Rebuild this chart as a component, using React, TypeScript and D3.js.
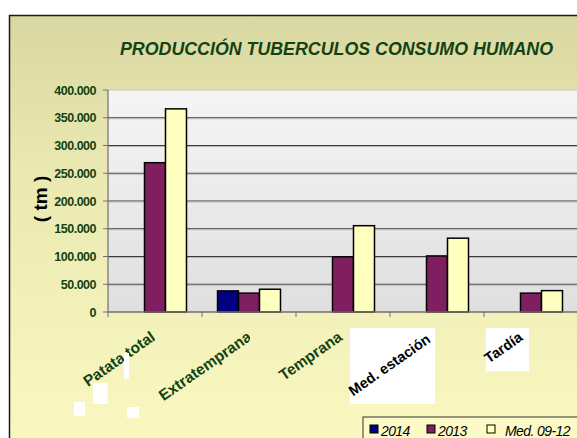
import React, { useMemo } from "react";
import * as d3 from "d3";

const categories = ["Patata total", "Extratemprana", "Temprana", "Med. estación", "Tardía"];
const seriesNames = ["2014", "2013", "Med. 09-12"];
const values2014: (number | null)[] = [null, 38000, null, null, null];
const values2013: (number | null)[] = [269000, 34000, 99500, 101000, 34000];
const valuesMed: (number | null)[] = [366000, 41000, 155500, 133000, 38500];
const yTicks = [0, 50000, 100000, 150000, 200000, 250000, 300000, 350000, 400000];
const boxedLabels = [false, false, false, true, true];
const seriesColors = ["#000080", "#7F1F5F", "#FFFFC0"];

const W = 577;
const H = 438;
const GREEN = "#134213";
const FONT = "'Liberation Sans', Arial, sans-serif";
const ANGLE = 35;

const locale = d3.formatLocale({ decimal: ",", thousands: ".", grouping: [3], currency: ["", ""] });
const fmt = locale.format(",");

export default function App() {
  const margin = { left: 108, top: 90, right: W + 1, bottom: 312 };
  const x = d3.scaleBand<string>().domain(categories).range([margin.left, margin.right]).paddingInner(0).paddingOuter(0);
  const y = d3.scaleLinear().domain([0, 400000]).range([margin.bottom, margin.top]);
  const bw = x.bandwidth();
  const groupW = bw * 0.67;
  const xs = d3.scaleBand<string>().domain(seriesNames).range([(bw - groupW) / 2, (bw + groupW) / 2]);
  const seriesValues = [values2014, values2013, valuesMed];

  const lengths = useMemo(() => {
    const c = document.createElement("canvas").getContext("2d");
    return categories.map((t) => {
      if (!c) return t.length * 14 * 0.55;
      c.font = `bold 14px ${FONT}`;
      return c.measureText(t).width;
    });
  }, []);

  const labelInfo = categories.map((cat, i) => {
    const cx = (x(cat) as number) + bw / 2;
    const L = lengths[i];
    const w = L * 0.81 + 10;
    const h = L * 0.632 + 17.4;
    const right = cx - 2;
    const left = right - w;
    const top = 328;
    const bottom = top + h;
    const boxed = boxedLabels[i];
    return {
      cat,
      cx,
      left,
      right,
      top,
      bottom,
      w,
      h,
      boxed,
      sx: left + (boxed ? 3 : 6),
      sy: bottom - (boxed ? 7.5 : 6),
      size: boxed ? 14.5 : 15.5,
    };
  });

  const artifacts = [
    [-31, 353, 5, 26],
    [-62, 383, 14.5, 21],
    [-81, 402, 11, 14],
    [-28, 407, 12, 11],
  ];

  return (
    <svg width={W} height={H} style={{ position: "absolute", left: 0, top: 0 }} fontFamily={FONT}>
      <defs>
        <linearGradient id="bg" x1="0" y1="0" x2="0" y2="1">
          <stop offset="0" stopColor="#DAD8A2" />
          <stop offset="0.35" stopColor="#EBE9B2" />
          <stop offset="1" stopColor="#FCFAC2" />
        </linearGradient>
        <linearGradient id="plotbg" x1="0" y1="0" x2="0" y2="1">
          <stop offset="0" stopColor="#F5F5F5" />
          <stop offset="1" stopColor="#DFDFDF" />
        </linearGradient>
        {labelInfo.map((d, i) => (
          <clipPath id={`lc${i}`} key={i}>
            <rect x={d.left - 40} y={d.top - 40} width={d.cx + (i === 2 ? 2 : i === 1 ? 1 : 0) - d.left + 40} height={d.h + 80} />
          </clipPath>
        ))}
      </defs>
      <rect x={0} y={0} width={W} height={H} fill="#FFFFFF" />
      <rect x={9.5} y={15.5} width={W + 20} height={H + 20} fill="url(#bg)" stroke="#1a1a1a" strokeWidth={1.5} />

      <text x={120} y={55} fontSize={18.5} fontWeight="bold" fontStyle="italic" fill={GREEN} textLength={433} lengthAdjust="spacingAndGlyphs">
        PRODUCCIÓN TUBERCULOS CONSUMO HUMANO
      </text>

      <rect x={margin.left} y={margin.top} width={margin.right - margin.left} height={margin.bottom - margin.top} fill="url(#plotbg)" />
      {yTicks.map((t) => (
        <g key={t}>
          {t > 0 && t < 400000 && (
            <>
              <line x1={margin.left} x2={margin.right} y1={y(t)} y2={y(t)} stroke="#3a3a3a" strokeWidth={1} />
              <line x1={margin.left} x2={margin.right} y1={y(t) + 1} y2={y(t) + 1} stroke="#b8b8b8" strokeWidth={1} />
            </>
          )}
          {t === 400000 && <line x1={margin.left} x2={margin.right} y1={y(t)} y2={y(t)} stroke="#c4c4c4" strokeWidth={1} />}
          <line x1={margin.left - 5} x2={margin.left} y1={y(t)} y2={y(t)} stroke="#707070" strokeWidth={1} />
          <text x={96} y={y(t) + 4.5} textAnchor="end" fontSize={12.5} fontWeight="bold" fill={GREEN} letterSpacing={-0.5}>
            {fmt(t)}
          </text>
        </g>
      ))}
      <line x1={margin.left} x2={margin.left} y1={margin.top} y2={margin.bottom} stroke="#707070" strokeWidth={1.2} />

      {categories.map((cat, i) =>
        seriesValues.map((vals, s) => {
          const v = vals[i];
          if (v == null) return null;
          const bx = (x(cat) as number) + (xs(seriesNames[s]) as number);
          return (
            <rect key={`${i}-${s}`} x={bx} y={y(v)} width={xs.bandwidth()} height={y(0) - y(v)} fill={seriesColors[s]} stroke="#000" strokeWidth={1.5} />
          );
        })
      )}

      <line x1={margin.left} x2={margin.right} y1={y(0)} y2={y(0)} stroke="#707070" strokeWidth={1.5} />
      {categories.map((cat) => (
        <line key={cat} x1={x(cat) as number} x2={x(cat) as number} y1={y(0)} y2={y(0) + 5} stroke="#707070" strokeWidth={1} />
      ))}

      <text transform={`translate(47,199) rotate(-90)`} textAnchor="middle" fontSize={19} fontWeight="bold" fill="#000">
        ( tm )
      </text>

      {labelInfo.map((d, i) => (
        <g key={d.cat} clipPath={`url(#lc${i})`}>
          {d.boxed && <rect x={d.left} y={d.top} width={d.w} height={d.h} fill="#FFFFFF" />}
          <text
            transform={`translate(${d.sx},${d.sy}) rotate(${-ANGLE})`}
            fontSize={d.size}
            fontWeight="bold"
            fill={d.boxed ? "#000" : GREEN}
          >
            {d.cat}
          </text>
        </g>
      ))}
      {artifacts.map(([dx, ay, aw, ah], k) => (
        <rect key={k} x={labelInfo[0].cx + dx} y={ay} width={aw} height={ah} fill="#FFFFFF" />
      ))}

      <g>
        <rect x={363} y={417} width={W} height={40} fill="#FCFBC8" stroke="#333" strokeWidth={1} />
        {seriesNames.map((s, k) => {
          const lx = [370, 427, 487][k];
          return (
            <g key={s}>
              <rect x={lx} y={425} width={8} height={8} fill={seriesColors[k]} stroke="#000" strokeWidth={1} />
              <text x={lx + (k === 2 ? 18 : 11)} y={436} fontSize={14} fontStyle="italic" fill="#000" letterSpacing={-0.6}>
                {s}
              </text>
            </g>
          );
        })}
      </g>
    </svg>
  );
}
